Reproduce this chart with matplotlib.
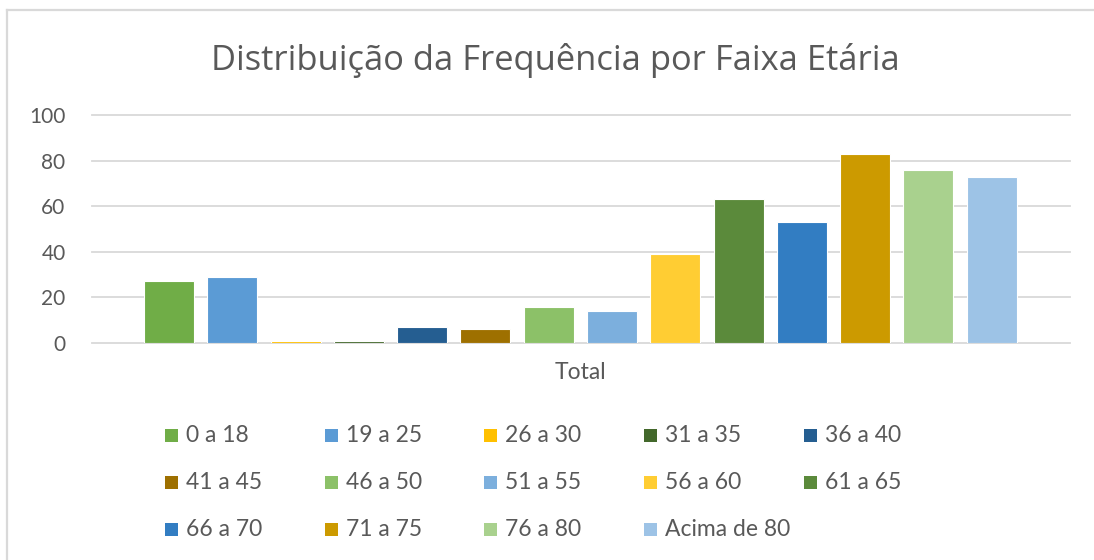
import matplotlib
matplotlib.use("Agg")
import matplotlib.pyplot as plt
from matplotlib.patches import Rectangle
from matplotlib.lines import Line2D

plt.rcParams['font.family'] = ['Lato', 'DejaVu Sans']

title = "Distribuição da Frequência por Faixa Etária"
category_label = "Total"
age_groups = ["0 a 18", "19 a 25", "26 a 30", "31 a 35", "36 a 40",
              "41 a 45", "46 a 50", "51 a 55", "56 a 60", "61 a 65",
              "66 a 70", "71 a 75", "76 a 80", "Acima de 80"]
frequencies = [27, 29, 1, 1, 7, 6, 16, 14, 39, 63, 53, 83, 76, 73]
colors = ["#70AD47", "#5B9BD5", "#FFC000", "#43682B", "#255E91",
          "#9E7000", "#8CC168", "#7CAFDD", "#FFCD33", "#5B8A3B",
          "#327DC2", "#CC9A00", "#A9D18E", "#9DC3E6"]
yticks = [0, 20, 40, 60, 80, 100]

W, H = 1094, 560
fig = plt.figure(figsize=(W / 100, H / 100), dpi=100)
fig.patch.set_facecolor("white")

TXT = "#595959"
GRID = "#D9D9D9"

# chart border (top and left visible)
fig.add_artist(Line2D([7 / W, 1.0], [1 - 10 / H, 1 - 10 / H], color=GRID, lw=1.6,
                      transform=fig.transFigure))
fig.add_artist(Line2D([7 / W, 7 / W], [1 - 10 / H, 0], color=GRID, lw=1.6,
                      transform=fig.transFigure))

ax = fig.add_axes([92 / W, 1 - 343 / H, (1070 - 92) / W, (343 - 115) / H])
xs = list(range(len(age_groups)))
bars = ax.bar(xs, frequencies, width=0.79, color=colors, edgecolor="white",
              linewidth=0.8, zorder=3)
ax.set_xlim(-1.22, 14.24)
ax.set_ylim(0, 100)
for y in yticks:
    ax.axhline(y, color=GRID, lw=1.3, zorder=1, clip_on=False)
for s in ax.spines.values():
    s.set_visible(False)
ax.set_yticks(yticks)
ax.set_yticklabels([str(v) for v in yticks], fontsize=15, color=TXT)
ax.tick_params(axis="y", length=0, pad=19)
ax.set_xticks([(len(age_groups) - 1) / 2])
ax.set_xticklabels([category_label], fontsize=16.5, color=TXT)
ax.tick_params(axis="x", length=0, pad=14)

fig.text(555 / W, 1 - 70 / H, title, ha="center", va="baseline",
         fontsize=24.8, color=TXT, family=["Open Sans", "DejaVu Sans"])

# legend, 5 columns x 3 rows
col_x = [165, 325, 484, 644, 804]
row_base = [441.5, 488.8, 535.8]
sq = 13
for i, (lab, c) in enumerate(zip(age_groups, colors)):
    r, k = divmod(i, 5)
    x0, yb = col_x[k], row_base[r]
    fig.add_artist(Rectangle((x0 / W, 1 - yb / H), sq / W, sq / H,
                             transform=fig.transFigure, facecolor=c,
                             edgecolor="none"))
    fig.text((x0 + 21) / W, 1 - yb / H, lab, ha="left", va="baseline",
             fontsize=16.5, color=TXT)

fig.savefig("out.png", dpi=100, facecolor="white")
